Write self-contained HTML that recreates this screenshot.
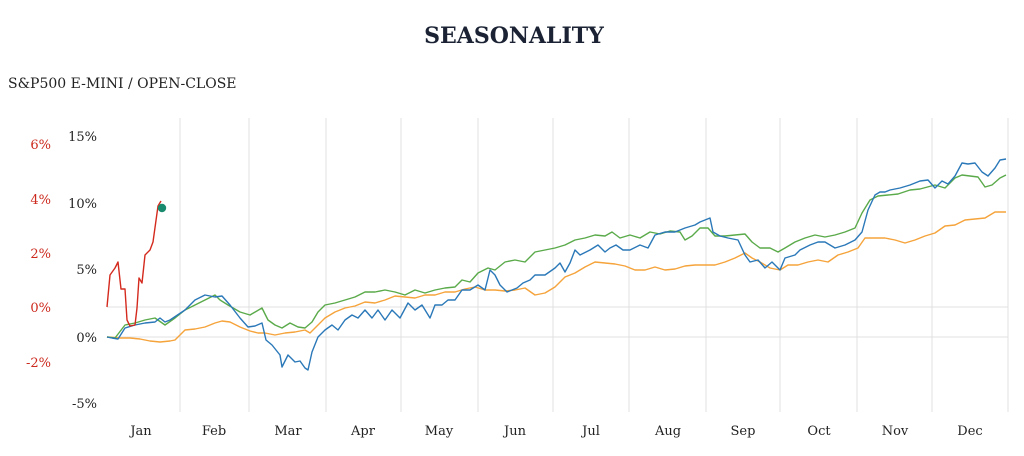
<!DOCTYPE html>
<html><head><meta charset="utf-8"><style>
body{margin:0;background:#fff;width:1024px;height:456px;overflow:hidden}
svg{display:block}
text{font-family:"DejaVu Serif","Liberation Serif",serif}
</style></head><body>
<svg width="1024" height="456" viewBox="0 0 1024 456">
<text x="514" y="43" text-anchor="middle" font-size="22" font-weight="bold" fill="#1a2233" font-family="Liberation Serif,serif">SEASONALITY</text>
<text x="8" y="88" font-size="14" fill="#222">S&amp;P500 E-MINI / OPEN-CLOSE</text>
<g stroke="#e0e0e0" stroke-width="1">
<line x1="180" y1="118" x2="180" y2="412"/><line x1="249" y1="118" x2="249" y2="412"/><line x1="326" y1="118" x2="326" y2="412"/><line x1="401" y1="118" x2="401" y2="412"/><line x1="478" y1="118" x2="478" y2="412"/><line x1="553" y1="118" x2="553" y2="412"/><line x1="629" y1="118" x2="629" y2="412"/><line x1="706" y1="118" x2="706" y2="412"/><line x1="780" y1="118" x2="780" y2="412"/><line x1="857" y1="118" x2="857" y2="412"/><line x1="932" y1="118" x2="932" y2="412"/><line x1="1008" y1="118" x2="1008" y2="412"/>
<line x1="107" y1="307" x2="1008" y2="307"/><line x1="107" y1="337" x2="1008" y2="337"/>
</g>
<g font-size="13" fill="#222" text-anchor="end">
<text x="97" y="141">15%</text><text x="97" y="208">10%</text><text x="97" y="274">5%</text><text x="97" y="342">0%</text><text x="97" y="408">-5%</text>
</g>
<g font-size="13" fill="#cc2a1e" text-anchor="end">
<text x="51" y="149">6%</text><text x="51" y="204">4%</text><text x="51" y="258">2%</text><text x="51" y="312">0%</text><text x="51" y="367">-2%</text>
</g>
<g font-size="13" fill="#222" text-anchor="middle">
<text x="141" y="435">Jan</text><text x="214" y="435">Feb</text><text x="288" y="435">Mar</text><text x="363" y="435">Apr</text><text x="439" y="435">May</text><text x="515" y="435">Jun</text><text x="591" y="435">Jul</text><text x="668" y="435">Aug</text><text x="743" y="435">Sep</text><text x="819" y="435">Oct</text><text x="895" y="435">Nov</text><text x="970" y="435">Dec</text>
</g>
<g fill="none" stroke-width="1.4" stroke-linejoin="round">
<polyline stroke="#f5a33a" points="107,337 120,338 130,338 140,339 150,341 160,342 170,341 175,340 185,330 195,329 205,327 215,323 222,321 230,322 240,327 250,331 258,333 265,333 275,335 285,333 295,332 305,330 310,333 318,325 325,318 335,312 345,308 355,306 365,302 375,303 385,300 395,296 405,297 415,298 425,295 435,295 445,292 455,292 465,289 475,287 485,290 495,290 505,291 515,290 525,288 535,295 545,293 555,287 565,277 575,273 585,267 595,262 605,263 615,264 625,266 635,270 645,270 655,267 665,270 675,269 685,266 695,265 705,265 715,265 725,262 735,258 745,253 752,258 760,262 770,268 780,270 788,265 798,265 808,262 818,260 828,262 838,255 848,252 858,248 865,238 875,238 885,238 895,240 905,243 915,240 925,236 935,233 945,226 955,225 965,220 975,219 985,218 995,212 1006,212"/>
<polyline stroke="#5aaa4a" points="107,337 115,338 125,325 135,323 145,320 155,318 165,325 175,318 185,310 195,305 205,300 215,295 220,300 228,305 240,312 250,315 262,308 268,320 275,325 282,328 290,323 298,327 305,328 312,322 318,312 325,305 335,303 345,300 355,297 365,292 375,292 385,290 395,292 405,295 415,290 425,293 435,290 445,288 455,287 462,280 470,282 478,273 488,268 495,270 505,262 515,260 525,262 535,252 545,250 555,248 565,245 575,240 585,238 595,235 605,236 612,232 620,238 630,235 640,238 650,232 660,234 670,231 680,232 685,240 692,236 700,228 708,228 715,236 725,236 735,235 745,234 752,242 760,248 770,248 778,252 785,248 795,242 805,238 815,235 825,237 835,235 845,232 855,228 862,213 870,200 878,196 888,195 898,194 910,190 920,189 935,185 945,188 955,178 962,175 970,176 978,177 985,187 992,185 1000,178 1006,175"/>
<polyline stroke="#2a78b8" points="107,337 112,338 118,339 125,328 135,325 145,323 155,322 160,318 165,322 170,320 176,316 185,310 195,300 205,295 215,297 222,296 230,305 240,318 248,327 255,326 262,323 266,340 272,345 280,355 282,367 288,355 295,362 300,361 305,368 308,370 312,352 318,337 325,330 332,325 338,330 345,320 352,315 358,318 365,310 372,318 378,310 385,320 392,310 400,318 408,303 415,310 422,305 430,318 435,305 442,305 448,300 455,300 462,290 470,290 478,285 485,290 490,270 495,275 500,285 507,292 512,290 517,288 523,283 530,280 535,275 545,275 555,268 560,263 565,272 570,263 575,250 580,255 590,250 598,245 605,252 610,248 616,245 623,250 630,250 640,245 648,248 655,235 665,232 675,232 685,228 695,225 700,222 705,220 710,218 713,232 720,236 728,238 738,240 745,255 750,262 758,260 765,268 772,262 780,270 785,258 795,255 800,250 810,245 818,242 825,242 835,248 845,245 855,240 862,232 868,210 875,195 880,192 885,192 890,190 900,188 910,185 920,181 928,180 935,188 942,181 948,184 955,176 962,163 968,164 975,163 982,172 988,176 995,168 1000,160 1006,159"/>
<polyline stroke="#d42a1e" points="107,307 110,275 115,268 118,262 121,289 125,289 127,320 130,326 135,325 137,308 139,278 142,283 145,255 150,250 153,242 158,206 161,201"/>
</g>
<circle cx="162" cy="208" r="4.2" fill="#1a8a6e"/>
</svg>
</body></html>
